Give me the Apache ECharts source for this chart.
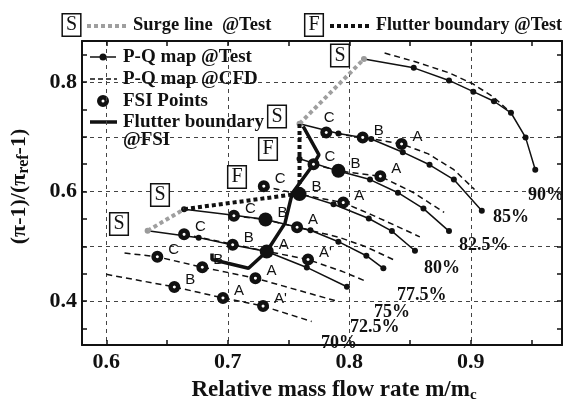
<!DOCTYPE html>
<html>
<head>
<meta charset="utf-8">
<script src="https://cdn.jsdelivr.net/npm/echarts@6/dist/echarts.min.js"></script>
<style>
  html, body { margin: 0; padding: 0; background: #fff; }
  #chart { width: 567px; height: 408px; }
</style>
</head>
<body>
<div id="chart"></div>
<script>
// ticks and labels
const xTicks = [0.6, 0.65, 0.7, 0.75, 0.8, 0.85, 0.9, 0.95]
const xLabels = [0.6, 0.7, 0.8, 0.9]
const yTicks = [0.35, 0.4, 0.45, 0.5, 0.55, 0.6, 0.65, 0.7, 0.75, 0.8, 0.85]
const yLabels = [0.4, 0.6, 0.8]
const yGrid = [0.4, 0.5, 0.6, 0.7, 0.8]

// P-Q map @Test (x = m/mc, y = (pi-1)/(pi_ref-1))
const test90 = [[0.812, 0.842], [0.853, 0.826], [0.882, 0.803], [0.902, 0.7825], [0.919, 0.765], [0.933, 0.744], [0.945, 0.699], [0.953, 0.640]]
const test85 = [[0.759, 0.724], [0.791, 0.706], [0.818, 0.696], [0.844, 0.672], [0.866, 0.649], [0.886, 0.622], [0.909, 0.565]]
const test825 = [[0.759, 0.660], [0.791, 0.6375], [0.817, 0.622], [0.840, 0.598], [0.861, 0.569], [0.882, 0.528]]
const test80 = [[0.759, 0.5964], [0.787, 0.577], [0.816, 0.551], [0.835, 0.528], [0.854, 0.492]]
const test775 = [[0.664, 0.568], [0.705, 0.557], [0.731, 0.549], [0.768, 0.5295], [0.791, 0.5086], [0.814, 0.483], [0.828, 0.460]]
const test75 = [[0.634, 0.5286], [0.676, 0.516], [0.704, 0.5027], [0.732, 0.4907], [0.765, 0.4616], [0.798, 0.4264]]

// P-Q map @CFD
const cfd90 = [[0.829, 0.853], [0.853, 0.838], [0.882, 0.817], [0.9015, 0.797], [0.919, 0.772], [0.93, 0.75]]
const cfd85 = [[0.781, 0.708], [0.811, 0.699], [0.843, 0.687], [0.865, 0.669], [0.886, 0.640], [0.903, 0.604]]
const cfd825 = [[0.7705, 0.650], [0.791, 0.638], [0.8255, 0.628], [0.853, 0.598], [0.878, 0.562]]
const cfd80 = [[0.7296, 0.610], [0.759, 0.595], [0.795, 0.580], [0.818, 0.558], [0.839, 0.537], [0.858, 0.5175]]
const cfd775 = [[0.705, 0.556], [0.731, 0.549], [0.757, 0.535], [0.791, 0.517], [0.814, 0.499], [0.836, 0.476]]
const cfd75 = [[0.664, 0.522], [0.704, 0.504], [0.732, 0.491], [0.766, 0.476], [0.794, 0.4545], [0.814, 0.436]]
const cfd725 = [[0.615, 0.488], [0.642, 0.481], [0.679, 0.462], [0.7227, 0.442], [0.769, 0.413], [0.79, 0.400]]
const cfd70 = [[0.600, 0.449], [0.656, 0.426], [0.696, 0.406], [0.729, 0.391], [0.769, 0.363]]

// FSI points (rings) and the ones that flutter (filled)
const fsiRingXY = [[0.781, 0.708], [0.811, 0.699], [0.843, 0.687], [0.7705, 0.650], [0.8255, 0.628], [0.7296, 0.610], [0.795, 0.580],
  [0.705, 0.556], [0.757, 0.535], [0.664, 0.522], [0.704, 0.503], [0.766, 0.476], [0.642, 0.481], [0.679, 0.462], [0.7227, 0.442],
  [0.656, 0.426], [0.696, 0.406], [0.729, 0.391]]
const fsiRingTag = ['C', 'B', 'A', 'C', 'A', 'C', 'A', 'C', 'A', 'C', 'B', "A'", 'C', 'B', 'A', 'B', 'A', "A'"]
const fsiFillXY = [[0.791, 0.638], [0.759, 0.5955], [0.731, 0.549], [0.732, 0.4907]]
const fsiFillTag = ['B', 'B', 'B', 'A']

// boundaries
const surgeLow = [[0.634, 0.5286], [0.664, 0.568]]
const surgeHigh = [[0.759, 0.724], [0.812, 0.842]]
const flutterTest = [[0.664, 0.568], [0.759, 0.5964], [0.759, 0.660], [0.759, 0.724]]
const flutterFsi = [[0.762, 0.719], [0.775, 0.667], [0.7705, 0.650], [0.753, 0.597], [0.747, 0.542], [0.732, 0.4907], [0.717, 0.460], [0.687, 0.476], [0.687, 0.487]]

// speed labels
const speedNames = ['90%', '85%', '82.5%', '80%', '77.5%', '75%', '72.5%', '70%']
const speedPos = [[528, 195], [493, 217], [459, 245], [424, 268], [397, 295], [374, 312], [350, 327], [321, 343]]

const serif = 'Liberation Serif'
const ink = '#111'
const ringStyle = { color: '#fff', borderColor: ink, borderWidth: 4.5, opacity: 1 }

function testLine(data, grayFirst) {
  return {
    type: 'line',
    data: data.map((p, i) => (i === 0 && grayFirst) ? { value: p, itemStyle: { color: '#9a9a9a' } } : p),
    symbol: 'circle',
    symbolSize: 6,
    itemStyle: { color: ink },
    lineStyle: { color: ink, width: 1.5 },
    z: 4
  }
}

function cfdLine(data) {
  return {
    type: 'line',
    data: data,
    symbol: 'none',
    lineStyle: { color: ink, width: 1.5, type: [6, 4] },
    z: 3
  }
}

function tagLabel(tags) {
  return {
    show: true,
    position: 'right',
    distance: 5,
    offset: [0, -7],
    formatter: p => tags[p.dataIndex],
    fontFamily: 'Liberation Sans',
    fontSize: 15,
    color: ink
  }
}

function boxText(ch, cx, cy) {
  return {
    type: 'text',
    x: cx,
    y: cy,
    z: 50,
    style: {
      text: ch,
      font: '20px "Liberation Serif"',
      fill: ink,
      align: 'center',
      verticalAlign: 'middle',
      backgroundColor: '#fff',
      borderColor: ink,
      borderWidth: 1.5,
      padding: [1, 3, 0, 3]
    }
  }
}

function plainText(t, x, y, size) {
  return { type: 'text', x: x, y: y, z: 50, style: { text: t, font: 'bold ' + size + 'px "Liberation Serif"', fill: ink, verticalAlign: 'middle' } }
}

const chart = echarts.init(document.getElementById('chart'))

const axisFrame = { show: true, onZero: false, lineStyle: { color: ink, width: 2 } }

const series = [
  cfdLine(cfd90), cfdLine(cfd85), cfdLine(cfd825), cfdLine(cfd80),
  cfdLine(cfd775), cfdLine(cfd75), cfdLine(cfd725), cfdLine(cfd70),
  testLine(test90, true), testLine(test85, true), testLine(test825, false),
  testLine(test80, false), testLine(test775, false), testLine(test75, true),
  {
    type: 'line', data: surgeLow, symbol: 'none', z: 5,
    lineStyle: { color: '#9f9f9f', width: 4, type: [4, 3] }
  },
  {
    type: 'line', data: surgeHigh, symbol: 'none', z: 5,
    lineStyle: { color: '#9f9f9f', width: 4, type: [4, 3] }
  },
  {
    type: 'line', data: flutterTest, symbol: 'none', z: 5,
    lineStyle: { color: ink, width: 4, type: [4, 3] }
  },
  {
    type: 'line', data: flutterFsi, symbol: 'none', z: 6,
    lineStyle: { color: ink, width: 3.5 }
  },
  {
    type: 'scatter', z: 8,
    data: fsiRingXY.map((p, i) => i === 0 ? { value: p, label: { position: 'top', distance: 1, offset: [3, 0] } } : p),
    symbol: 'circle', symbolSize: 7.5,
    itemStyle: ringStyle,
    label: tagLabel(fsiRingTag)
  },
  {
    type: 'scatter', data: fsiFillXY, z: 8,
    symbol: 'circle', symbolSize: 14,
    itemStyle: { color: ink, opacity: 1 },
    label: tagLabel(fsiFillTag)
  }
]

const graphics = [
  // top legend
  boxText('S', 71.5, 25),
  { type: 'line', shape: { x1: 87, y1: 26, x2: 127, y2: 26 }, style: { stroke: '#9f9f9f', lineWidth: 4, lineDash: [4, 3] } },
  plainText('Surge line  @Test', 133, 25, 18.5),
  boxText('F', 314, 25),
  { type: 'line', shape: { x1: 330, y1: 26, x2: 372, y2: 26 }, style: { stroke: ink, lineWidth: 4, lineDash: [4, 3] } },
  plainText('Flutter boundary @Test', 376, 25, 18),
  // inner legend
  { type: 'line', shape: { x1: 90, y1: 57, x2: 116, y2: 57 }, style: { stroke: ink, lineWidth: 1.5 } },
  { type: 'circle', shape: { cx: 103, cy: 57, r: 3.5 }, style: { fill: ink } },
  plainText('P-Q map @Test', 123, 57, 19),
  { type: 'line', shape: { x1: 90, y1: 79, x2: 117, y2: 79 }, style: { stroke: ink, lineWidth: 1.5, lineDash: [5, 3] } },
  plainText('P-Q map @CFD', 123, 79, 19),
  { type: 'circle', shape: { cx: 103, cy: 101, r: 3.75 }, style: { fill: '#fff', stroke: ink, lineWidth: 4.5 } },
  plainText('FSI Points', 123, 101, 19),
  { type: 'line', shape: { x1: 90, y1: 122, x2: 117, y2: 122 }, style: { stroke: ink, lineWidth: 3.5 } },
  plainText('Flutter boundary', 123, 122, 19),
  plainText('@FSI', 123, 140, 19),
  // surge / flutter markers in the plot
  boxText('S', 119, 224),
  boxText('S', 160, 195),
  boxText('S', 277, 116.5),
  boxText('S', 340, 55.5),
  boxText('F', 268, 149),
  boxText('F', 237, 177)
].concat(speedNames.map((t, i) => plainText(t, speedPos[i][0], speedPos[i][1], 18)))

chart.setOption({
  animation: false,
  backgroundColor: '#fff',
  grid: { left: 79, right: 5, top: 41, bottom: 56 },
  xAxis: [
    {
      type: 'value', min: 0.58, max: 0.975, position: 'bottom',
      axisLine: axisFrame,
      axisTick: { show: true, inside: true, length: 5, customValues: xTicks, lineStyle: { color: ink, width: 1.5 } },
      axisLabel: { customValues: xLabels, formatter: v => v.toFixed(1), fontFamily: serif, fontSize: 22, fontWeight: 'bold', color: ink, margin: 6 },
      splitLine: { show: false },
      name: 'Relative mass flow rate m/m{s|c}',
      nameLocation: 'middle',
      nameGap: 33,
      nameTextStyle: {
        fontFamily: serif, fontSize: 23, fontWeight: 'bold', color: ink, padding: [0, 0, 0, 24],
        rich: { s: { fontFamily: serif, fontSize: 15, fontWeight: 'bold', color: ink, padding: [10, 0, 0, 0] } }
      }
    },
    {
      type: 'value', min: 0.58, max: 0.975, position: 'top',
      axisLine: axisFrame,
      axisTick: { show: true, inside: true, length: 5, customValues: xTicks, lineStyle: { color: ink, width: 1.5 } },
      axisLabel: { show: false },
      splitLine: { show: false }
    },
    {
      type: 'value', min: 0.58, max: 0.975, position: 'bottom',
      axisLine: { show: false },
      axisTick: { show: false, customValues: xLabels },
      axisLabel: { show: false },
      splitLine: { show: true, lineStyle: { color: '#444', width: 1, type: [4, 4] } }
    }
  ],
  yAxis: [
    {
      type: 'value', min: 0.32, max: 0.875, position: 'left',
      axisLine: axisFrame,
      axisTick: { show: true, inside: true, length: 5, customValues: yTicks, lineStyle: { color: ink, width: 1.5 } },
      axisLabel: { customValues: yLabels, formatter: v => v.toFixed(1), fontFamily: serif, fontSize: 22, fontWeight: 'bold', color: ink, margin: 5 },
      splitLine: { show: false },
      name: '(π-1)/(π{s|ref}-1)',
      nameLocation: 'middle',
      nameGap: 50,
      nameRotate: 90,
      nameTextStyle: {
        fontFamily: serif, fontSize: 22, fontWeight: 'bold', color: ink, padding: [0, 0, 0, 13],
        rich: { s: { fontFamily: serif, fontSize: 16, fontWeight: 'bold', color: ink, padding: [10, 0, 0, 0] } }
      }
    },
    {
      type: 'value', min: 0.32, max: 0.875, position: 'right',
      axisLine: axisFrame,
      axisTick: { show: true, inside: true, length: 5, customValues: yTicks, lineStyle: { color: ink, width: 1.5 } },
      axisLabel: { show: false },
      splitLine: { show: false }
    },
    {
      type: 'value', min: 0.32, max: 0.875, position: 'left',
      axisLine: { show: false },
      axisTick: { show: false, customValues: yGrid },
      axisLabel: { show: false },
      splitLine: { show: true, lineStyle: { color: '#444', width: 1, type: [4, 4] } }
    }
  ],
  series: series,
  graphic: graphics
})
</script>
</body>
</html>
